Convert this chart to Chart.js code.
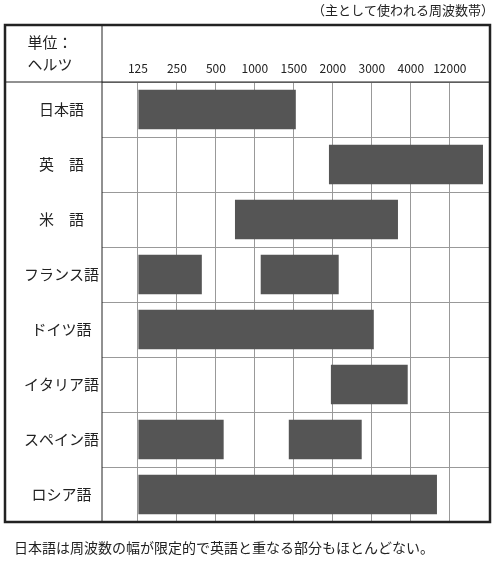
<!DOCTYPE html>
<html><head><meta charset="utf-8">
<script src="https://cdn.jsdelivr.net/npm/chart.js@4/dist/chart.umd.min.js"></script>
<style>body{margin:0;background:#fff}#wrap{width:500px;height:562px}</style>
</head><body><div id="wrap"><canvas id="c"></canvas></div>
<script>
const languages = ['日本語', '英　語', '米　語', 'フランス語', 'ドイツ語', 'イタリア語', 'スペイン語', 'ロシア語'];
const freqLabels = ['125', '250', '500', '1000', '1500', '2000', '3000', '4000', '12000'];
// ranges in grid-column units (0 = 125Hz line, 1 = 250Hz line, ...)
const mainBand = [[0, 4.05], [4.9, 8.85], [2.49, 6.67], [0, 1.64], [0, 6.05], [4.95, 6.92], [0, 2.2], [0, 7.67]];
const secondBand = [null, null, null, [3.15, 5.15], null, null, [3.87, 5.74], null];

const font = "'Noto Sans CJK JP', 'Noto Sans', sans-serif";

const frame = {
    id: 'frame',
    afterDraw(chart) {
        const { ctx, chartArea: a } = chart;
        ctx.save();
        ctx.strokeStyle = '#222';
        ctx.lineWidth = 1;
        ctx.beginPath();
        ctx.moveTo(a.left, 25); ctx.lineTo(a.left, a.bottom);
        ctx.moveTo(5, a.top); ctx.lineTo(a.right, a.top);
        ctx.stroke();
        ctx.lineWidth = 2.5;
        ctx.strokeRect(5, 25, a.right - 5, a.bottom - 25);
        ctx.fillStyle = '#222';
        ctx.font = '15px ' + font;
        ctx.textAlign = 'center';
        ctx.textBaseline = 'middle';
        ctx.fillText('単位：', 50, 42);
        ctx.fillText('ヘルツ', 50, 64);
        ctx.font = '13px ' + font;
        ctx.textAlign = 'right';
        ctx.fillText('（主として使われる周波数帯）', 494, 10);
        ctx.textAlign = 'left';
        ctx.font = '14px ' + font;
        ctx.fillText('日本語は周波数の幅が限定的で英語と重なる部分もほとんどない。', 14, 548);
        ctx.restore();
    }
};

new Chart(document.getElementById('c'), {
    type: 'bar',
    data: {
        labels: languages,
        datasets: [
            { data: mainBand, backgroundColor: '#555555', barPercentage: 0.72, categoryPercentage: 1 },
            { data: secondBand, backgroundColor: '#555555', barPercentage: 0.72, categoryPercentage: 1 }
        ]
    },
    options: {
        indexAxis: 'y',
        responsive: true,
        maintainAspectRatio: false,
        animation: false,
        grouped: false,
        layout: { padding: { left: 5, top: 25, right: 10, bottom: 40 } },
        plugins: { legend: { display: false }, tooltip: { enabled: false } },
        scales: {
            x: {
                position: 'top',
                min: -0.92, max: 9.03,
                afterFit: s => { s.height = 57; },
                afterBuildTicks: s => { s.ticks = freqLabels.map((_, i) => ({ value: i })); },
                ticks: { callback: v => freqLabels[v], color: '#222', font: { family: font, size: 12 }, maxRotation: 0, padding: 6 },
                grid: { color: '#999', tickLength: 0, drawTicks: false },
                border: { display: false }
            },
            y: {
                afterFit: s => { s.width = 97; },
                ticks: { color: '#222', crossAlign: 'center', font: { family: font, size: 15 } },
                grid: { offset: true, color: '#999', drawTicks: false, tickLength: 0 },
                border: { display: false }
            }
        }
    },
    plugins: [frame]
});
</script></body></html>
